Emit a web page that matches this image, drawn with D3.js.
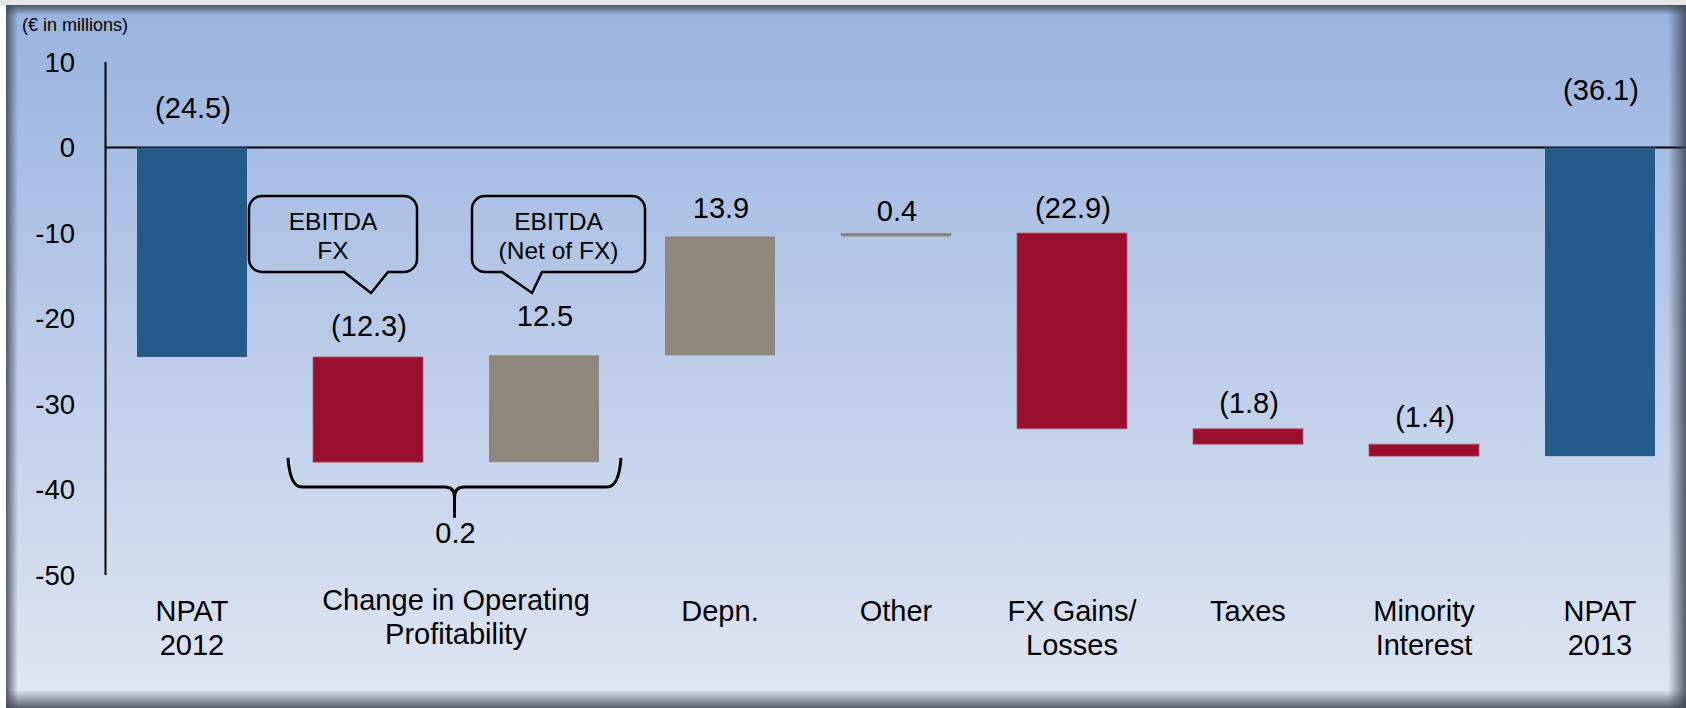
<!DOCTYPE html>
<html>
<head>
<meta charset="utf-8">
<script src="https://cdn.jsdelivr.net/npm/d3@7"></script>
<style>
  body { margin: 0; background: #ffffff; }
  text { font-family: "Liberation Sans", Arial, sans-serif; fill: #000; }
</style>
</head>
<body>
<script>
// data
var barNames = ["NPAT 2012", "EBITDA FX", "EBITDA (Net of FX)", "Depn.", "Other", "FX Gains/Losses", "Taxes", "Minority Interest", "NPAT 2013"];
var barValues = [-24.5, -12.3, 12.5, 13.9, 0.4, -22.9, -1.8, -1.4, -36.1];
var barIsTotal = [true, false, false, false, false, false, false, false, true];
var axisLabels = [["NPAT", "2012"], ["Change in Operating", "Profitability"], ["Depn."], ["Other"], ["FX Gains/", "Losses"], ["Taxes"], ["Minority", "Interest"], ["NPAT", "2013"]];
var axisGroups = [[0], [1, 2], [3], [4], [5], [6], [7], [8]];
var yTicks = [10, 0, -10, -20, -30, -40, -50];
var callouts = [{bar: 1, lines: ["EBITDA", "FX"]}, {bar: 2, lines: ["EBITDA", "(Net of FX)"]}];
var braceBars = [1, 2];
var braceValue = "0.2";
var unitLabel = "(\u20ac in millions)";

// layout
var width = 1686, height = 708;
var labelGap = [30, 21, 29, 18, 12, 15, 16, 17, 48];
var blue = "#245b89", red = "#9b0e2c", grey = "#8f867c";

var svg = d3.select("body").append("svg")
    .attr("width", width)
    .attr("height", height);

var defs = svg.append("defs");
var bg = defs.append("linearGradient").attr("id", "bg")
    .attr("x1", 0).attr("y1", 0).attr("x2", 0).attr("y2", 1);
bg.append("stop").attr("offset", "0%").attr("stop-color", "#98b3e0");
bg.append("stop").attr("offset", "100%").attr("stop-color", "#e0e6f4");

function edge(id, x1, y1, x2, y2) {
    var g = defs.append("linearGradient").attr("id", id)
        .attr("x1", x1).attr("y1", y1).attr("x2", x2).attr("y2", y2);
    g.append("stop").attr("offset", "0%").attr("stop-color", "#3e4657").attr("stop-opacity", 0.85);
    g.append("stop").attr("offset", "100%").attr("stop-color", "#3e4657").attr("stop-opacity", 0);
}
edge("eL", 0, 0, 1, 0);
edge("eR", 1, 0, 0, 0);
edge("eT", 0, 0, 0, 1);
edge("eB", 0, 1, 0, 0);

// panel
svg.append("rect")
    .attr("x", 0).attr("y", 0)
    .attr("width", width).attr("height", 5)
    .attr("fill", "#e6e6e6");
svg.append("rect")
    .attr("x", 6).attr("y", 5)
    .attr("width", width - 6).attr("height", height - 5)
    .attr("fill", "url(#bg)");

var x = d3.scaleBand()
    .domain(d3.range(barValues.length))
    .range([104, 1688])
    .paddingInner(0.375)
    .paddingOuter(0.1875);

var y = d3.scaleLinear()
    .domain([-50, 10])
    .range([575, 62]);

// waterfall extents
var bars = [];
var running = 0;
barValues.forEach(function(v, i) {
    var start, end;
    if (barIsTotal[i]) {
        start = 0; end = v;
    } else {
        start = running; end = running + v;
    }
    running = end;
    var color = barIsTotal[i] ? blue : (v < 0 ? red : grey);
    bars.push({i: i, v: v, top: Math.max(start, end), bottom: Math.min(start, end), color: color});
});

// zero line and y axis
svg.append("line")
    .attr("x1", 105).attr("x2", width)
    .attr("y1", y(0)).attr("y2", y(0))
    .attr("stroke", "#000").attr("stroke-width", 2);
svg.append("line")
    .attr("x1", 105.5).attr("x2", 105.5)
    .attr("y1", y(10)).attr("y2", y(-50))
    .attr("stroke", "#000").attr("stroke-width", 2);

svg.selectAll(".ytick").data(yTicks).enter().append("text")
    .attr("class", "ytick")
    .attr("x", 75)
    .attr("y", function(d) { return y(d); })
    .attr("dy", "0.36em")
    .attr("text-anchor", "end")
    .attr("font-size", 27.5)
    .text(function(d) { return d; });

svg.append("text")
    .attr("x", 22).attr("y", 31)
    .attr("font-size", 18)
    .text(unitLabel);

// bars
svg.selectAll(".bar").data(bars).enter().append("rect")
    .attr("class", "bar")
    .attr("x", function(d) { return x(d.i); })
    .attr("y", function(d) { return y(d.top); })
    .attr("width", x.bandwidth())
    .attr("height", function(d) { return Math.max(y(d.bottom) - y(d.top), 1); })
    .attr("fill", function(d) { return d.color; })
    .attr("stroke", function(d) { return d.color == red ? "#b45a72" : "none"; })
    .attr("stroke-width", 0.8);

var fmt = d3.format(".1f");
svg.selectAll(".val").data(bars).enter().append("text")
    .attr("class", "val")
    .attr("x", function(d) { return x(d.i) + x.bandwidth() / 2 + 1; })
    .attr("y", function(d) { return y(d.top) - labelGap[d.i]; })
    .attr("text-anchor", "middle")
    .attr("font-size", 29)
    .text(function(d) { return d.v < 0 ? "(" + fmt(-d.v) + ")" : fmt(d.v); });

// category labels
axisLabels.forEach(function(lines, k) {
    var grp = axisGroups[k];
    var cx = d3.mean(grp, function(i) { return x(i) + x.bandwidth() / 2; });
    var y0 = grp.length > 1 ? 610 : 621;
    var t = svg.append("text")
        .attr("text-anchor", "middle")
        .attr("font-size", 29);
    lines.forEach(function(s, j) {
        t.append("tspan").attr("x", cx).attr("y", y0 + j * 34).text(s);
    });
});

// callouts
callouts.forEach(function(c, k) {
    var bc = x(c.bar) + x.bandwidth() / 2;
    var boxW = k == 0 ? 168 : 173;
    var boxX = k == 0 ? bc - 119 : bc - 72;
    var top = 196, bot = 272, r = 13;
    var tipX = k == 0 ? bc + 3 : bc - 12;
    var baseL = k == 0 ? tipX - 27 : tipX - 30;
    var baseR = k == 0 ? tipX + 17 : tipX + 10;
    var tipY = 293;
    var p = d3.path();
    p.moveTo(boxX + r, top);
    p.lineTo(boxX + boxW - r, top);
    p.arcTo(boxX + boxW, top, boxX + boxW, top + r, r);
    p.lineTo(boxX + boxW, bot - r);
    p.arcTo(boxX + boxW, bot, boxX + boxW - r, bot, r);
    p.lineTo(baseR, bot);
    p.lineTo(tipX, tipY);
    p.lineTo(baseL, bot);
    p.lineTo(boxX + r, bot);
    p.arcTo(boxX, bot, boxX, bot - r, r);
    p.lineTo(boxX, top + r);
    p.arcTo(boxX, top, boxX + r, top, r);
    p.closePath();
    svg.append("path")
        .attr("d", p.toString())
        .attr("fill", "none")
        .attr("stroke", "#000")
        .attr("stroke-width", 2.5);
    var t = svg.append("text")
        .attr("text-anchor", "middle")
        .attr("font-size", 24.5);
    c.lines.forEach(function(s, j) {
        t.append("tspan").attr("x", boxX + boxW / 2).attr("y", 230 + j * 29).text(s);
    });
});

// brace under the operating profitability bars
var bl = x(braceBars[0]) - 25;
var br = x(braceBars[1]) + x.bandwidth() + 22;
var bm = (bl + br) / 2;
var bTop = y(-36.3), bMid = y(-39.7), bEnd = y(-43.3);
svg.append("path")
    .attr("d", "M" + bl + "," + bTop +
        " Q" + (bl + 2) + "," + bMid + " " + (bl + 14) + "," + bMid +
        " L" + (bm - 10) + "," + bMid +
        " Q" + bm + "," + bMid + " " + bm + "," + (bMid + 10) +
        " L" + bm + "," + bEnd +
        " M" + bm + "," + (bMid + 10) +
        " Q" + bm + "," + bMid + " " + (bm + 10) + "," + bMid +
        " L" + (br - 14) + "," + bMid +
        " Q" + (br - 2) + "," + bMid + " " + br + "," + bTop)
    .attr("fill", "none")
    .attr("stroke", "#000")
    .attr("stroke-width", 3);
svg.append("text")
    .attr("x", bm + 1).attr("y", y(-46.3))
    .attr("text-anchor", "middle")
    .attr("font-size", 29)
    .text(braceValue);

// panel edge shading
svg.append("rect").attr("x", 6).attr("y", 5).attr("width", 12).attr("height", height - 5).attr("fill", "url(#eL)");
svg.append("rect").attr("x", 1668).attr("y", 5).attr("width", 18).attr("height", height - 5).attr("fill", "url(#eR)");
svg.append("rect").attr("x", 6).attr("y", 5).attr("width", width - 6).attr("height", 10).attr("fill", "url(#eT)");
svg.append("rect").attr("x", 6).attr("y", 690).attr("width", width - 6).attr("height", 18).attr("fill", "url(#eB)");
</script>
</body>
</html>
